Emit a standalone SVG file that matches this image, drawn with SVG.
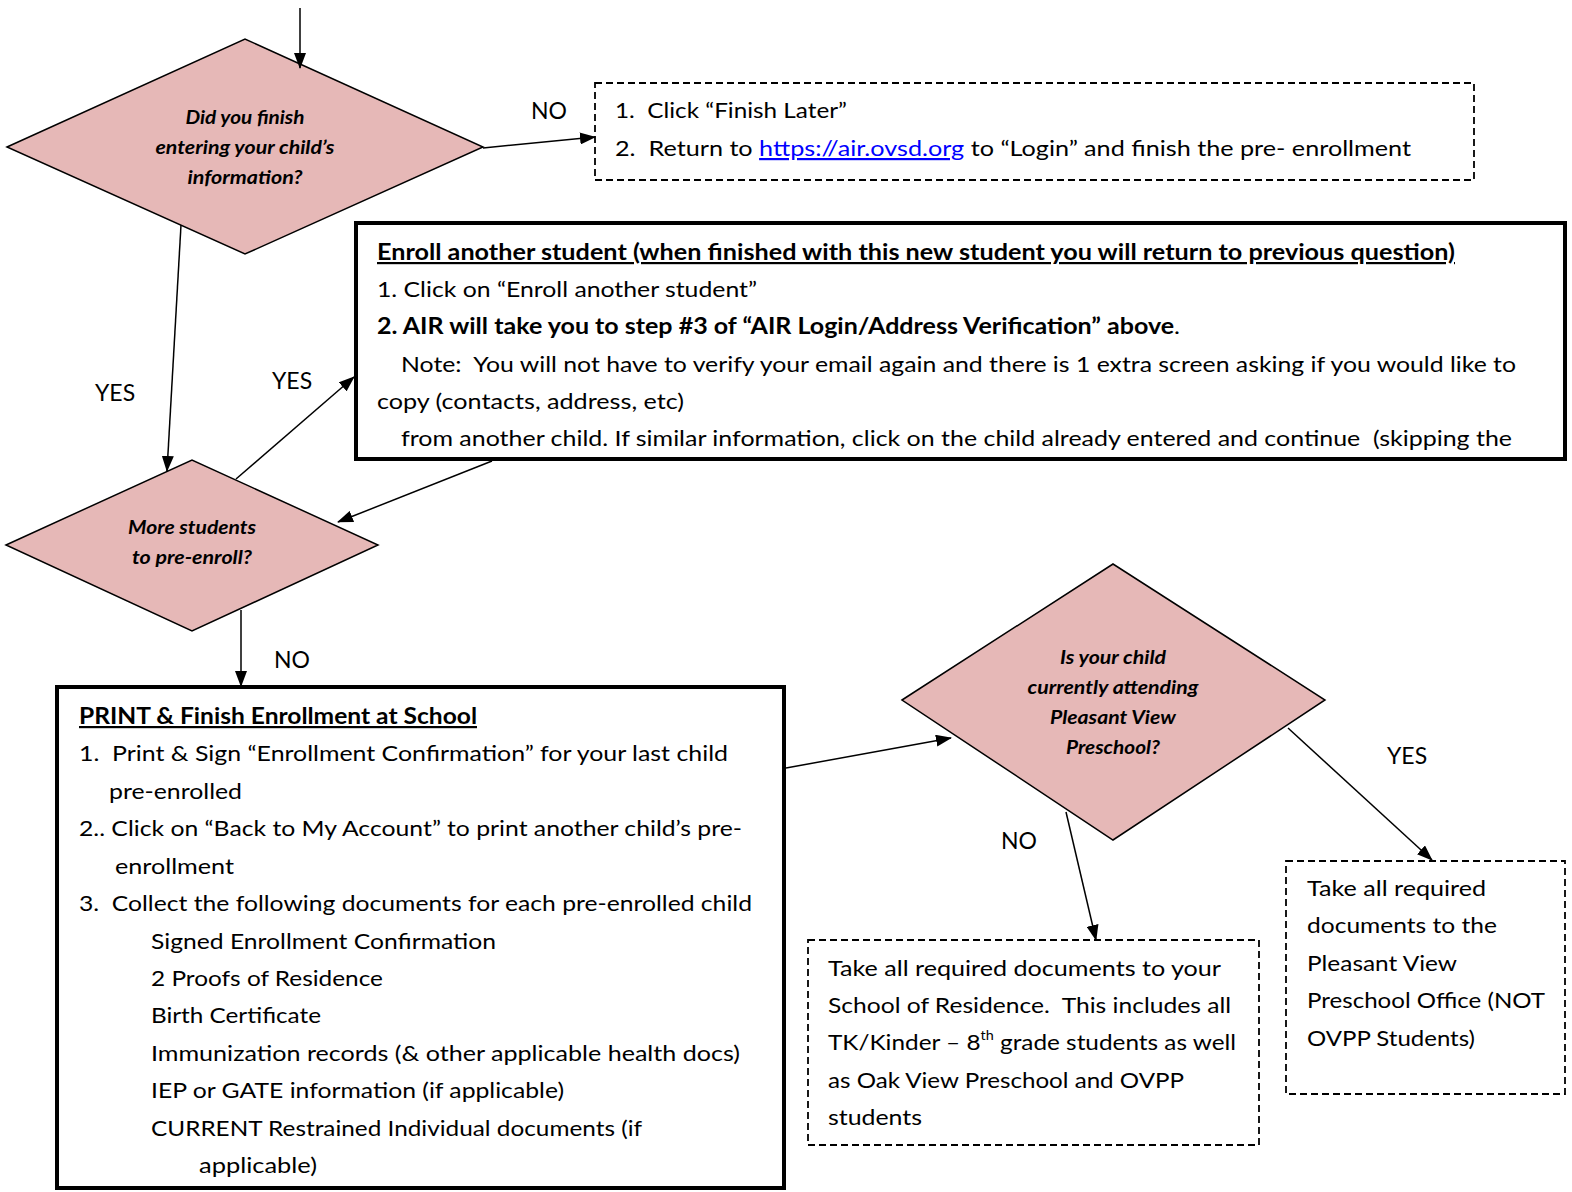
<svg xmlns="http://www.w3.org/2000/svg" width="1572" height="1192" viewBox="0 0 1572 1192">
<style>
.t{font-family:Lato,"Liberation Sans",sans-serif;font-size:22px;fill:#000;white-space:pre}
.b{font-weight:bold}
.u{text-decoration:underline}
.q{font-family:Lato,"Liberation Sans",sans-serif;font-size:18px;font-weight:bold;font-style:italic;fill:#000;text-anchor:middle}
.lbl{font-family:Lato,"Liberation Sans",sans-serif;font-size:23px;fill:#000}
.dia{fill:#e6b8b7;stroke:#000;stroke-width:1.5}
.thick{fill:#fff;stroke:#000;stroke-width:4}
.dash{fill:#fff;stroke:#000;stroke-width:1.8;stroke-dasharray:7 4}
.c{stroke:#000;stroke-width:1.5;fill:none;marker-end:url(#ah)}
</style>
<defs>
<marker id="ah" markerUnits="userSpaceOnUse" markerWidth="16" markerHeight="12" refX="15" refY="6" orient="auto">
<path d="M0,0 L16,6 L0,12 z" fill="#000"/>
</marker>
<clipPath id="clip2"><rect x="358" y="225" width="1205" height="227"/></clipPath>
</defs>
<rect width="1572" height="1192" fill="#fff"/>

<g id="d1">
<polygon class="dia" points="7,147 245,39 483,147 245,254"/>
<text class="q" x="245" y="124" textLength="119" lengthAdjust="spacingAndGlyphs">Did you finish</text>
<text class="q" x="245" y="154" textLength="179" lengthAdjust="spacingAndGlyphs">entering your child’s</text>
<text class="q" x="245" y="184" textLength="115" lengthAdjust="spacingAndGlyphs">information?</text>
</g>

<g id="box1">
<rect class="dash" x="595" y="83" width="879" height="97"/>
<text class="t" x="615" y="118" textLength="232" lengthAdjust="spacingAndGlyphs">1.  Click “Finish Later”</text>
<text class="t" x="615" y="156" textLength="796" lengthAdjust="spacingAndGlyphs">2.  Return to <tspan fill="#0000ff" class="u">https://air.ovsd.org</tspan> to “Login” and finish the pre- enrollment</text>
</g>

<g id="box2">
<rect class="thick" x="356" y="223" width="1209" height="236"/>
<g clip-path="url(#clip2)">
<text class="t b u" x="377" y="260" textLength="1078" lengthAdjust="spacingAndGlyphs">Enroll another student (when finished with this new student you will return to previous question)</text>
<text class="t" x="377" y="297" textLength="380" lengthAdjust="spacingAndGlyphs">1. Click on “Enroll another student”</text>
<text class="t" x="377" y="334" textLength="803" lengthAdjust="spacingAndGlyphs"><tspan class="b">2. AIR will take you to step #3 of “AIR Login/Address Verification” above</tspan>.</text>
<text class="t" x="401" y="372" textLength="1115" lengthAdjust="spacingAndGlyphs">Note:  You will not have to verify your email again and there is 1 extra screen asking if you would like to</text>
<text class="t" x="377" y="409" textLength="307" lengthAdjust="spacingAndGlyphs">copy (contacts, address, etc)</text>
<text class="t" x="401" y="446" textLength="1111" lengthAdjust="spacingAndGlyphs">from another child. If similar information, click on the child already entered and continue  (skipping the</text>
</g>
</g>

<g id="d2">
<polygon class="dia" points="6,545 192,460 378,545 192,631"/>
<text class="q" x="192" y="534" textLength="128" lengthAdjust="spacingAndGlyphs">More students</text>
<text class="q" x="192" y="564" textLength="120" lengthAdjust="spacingAndGlyphs">to pre-enroll?</text>
</g>

<g id="box3">
<rect class="thick" x="57" y="687" width="727" height="501"/>
<text class="t b u" x="79" y="724" textLength="398" lengthAdjust="spacingAndGlyphs">PRINT &amp; Finish Enrollment at School</text>
<text class="t" x="79" y="761" textLength="649" lengthAdjust="spacingAndGlyphs">1.  Print &amp; Sign “Enrollment Confirmation” for your last child</text>
<text class="t" x="109" y="799" textLength="133" lengthAdjust="spacingAndGlyphs">pre-enrolled</text>
<text class="t" x="79" y="836" textLength="663" lengthAdjust="spacingAndGlyphs">2.. Click on “Back to My Account” to print another child’s pre-</text>
<text class="t" x="115" y="874" textLength="119" lengthAdjust="spacingAndGlyphs">enrollment</text>
<text class="t" x="79" y="911" textLength="673" lengthAdjust="spacingAndGlyphs">3.  Collect the following documents for each pre-enrolled child</text>
<text class="t" x="151" y="949" textLength="345" lengthAdjust="spacingAndGlyphs">Signed Enrollment Confirmation</text>
<text class="t" x="151" y="986" textLength="232" lengthAdjust="spacingAndGlyphs">2 Proofs of Residence</text>
<text class="t" x="151" y="1023" textLength="170" lengthAdjust="spacingAndGlyphs">Birth Certificate</text>
<text class="t" x="151" y="1061" textLength="589" lengthAdjust="spacingAndGlyphs">Immunization records (&amp; other applicable health docs)</text>
<text class="t" x="151" y="1098" textLength="413" lengthAdjust="spacingAndGlyphs">IEP or GATE information (if applicable)</text>
<text class="t" x="151" y="1136" textLength="491" lengthAdjust="spacingAndGlyphs">CURRENT Restrained Individual documents (if</text>
<text class="t" x="199" y="1173" textLength="118" lengthAdjust="spacingAndGlyphs">applicable)</text>
</g>

<g id="d3">
<polygon class="dia" points="902,700 1113,564 1325,700 1113,840"/>
<text class="q" x="1113" y="664" textLength="106" lengthAdjust="spacingAndGlyphs">Is your child</text>
<text class="q" x="1113" y="694" textLength="171" lengthAdjust="spacingAndGlyphs">currently attending</text>
<text class="q" x="1113" y="724" textLength="126" lengthAdjust="spacingAndGlyphs">Pleasant View</text>
<text class="q" x="1113" y="754" textLength="94" lengthAdjust="spacingAndGlyphs">Preschool?</text>
</g>

<g id="box4">
<rect class="dash" x="808" y="940" width="451" height="205"/>
<text class="t" x="828" y="976" textLength="393" lengthAdjust="spacingAndGlyphs">Take all required documents to your</text>
<text class="t" x="828" y="1013" textLength="403" lengthAdjust="spacingAndGlyphs">School of Residence.  This includes all</text>
<text class="t" x="828" y="1050" textLength="408" lengthAdjust="spacingAndGlyphs">TK/Kinder – 8<tspan font-size="13" dy="-10">th</tspan><tspan dy="10"> grade students as well</tspan></text>
<text class="t" x="828" y="1088" textLength="356" lengthAdjust="spacingAndGlyphs">as Oak View Preschool and OVPP</text>
<text class="t" x="828" y="1125" textLength="94" lengthAdjust="spacingAndGlyphs">students</text>
</g>

<g id="box5">
<rect class="dash" x="1286" y="861" width="279" height="233"/>
<text class="t" x="1307" y="896" textLength="179" lengthAdjust="spacingAndGlyphs">Take all required</text>
<text class="t" x="1307" y="933" textLength="190" lengthAdjust="spacingAndGlyphs">documents to the</text>
<text class="t" x="1307" y="971" textLength="150" lengthAdjust="spacingAndGlyphs">Pleasant View</text>
<text class="t" x="1307" y="1008" textLength="238" lengthAdjust="spacingAndGlyphs">Preschool Office (NOT</text>
<text class="t" x="1307" y="1046" textLength="168" lengthAdjust="spacingAndGlyphs">OVPP Students)</text>
</g>

<g id="connectors">
<line class="c" x1="300" y1="8" x2="300" y2="68"/>
<line class="c" x1="483" y1="148" x2="595" y2="137"/>
<line class="c" x1="181" y1="225" x2="167" y2="471"/>
<line class="c" x1="236" y1="479" x2="354" y2="377"/>
<line class="c" x1="492" y1="461" x2="338" y2="522"/>
<line class="c" x1="241" y1="610" x2="241" y2="686"/>
<line class="c" x1="786" y1="768" x2="951" y2="738"/>
<line class="c" x1="1066" y1="812" x2="1096" y2="940"/>
<line class="c" x1="1288" y1="728" x2="1432" y2="860"/>
</g>

<g id="labels">
<text class="lbl" x="531" y="119">NO</text>
<text class="lbl" x="95" y="401">YES</text>
<text class="lbl" x="272" y="389">YES</text>
<text class="lbl" x="274" y="668">NO</text>
<text class="lbl" x="1001" y="849">NO</text>
<text class="lbl" x="1387" y="764">YES</text>
</g>
</svg>
